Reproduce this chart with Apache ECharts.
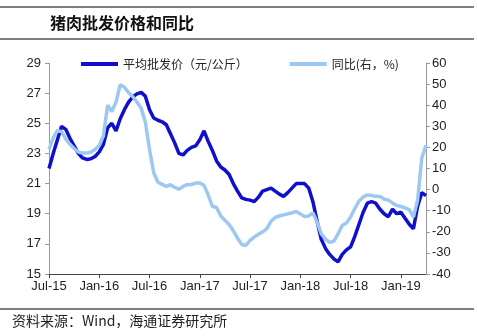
<!DOCTYPE html>
<html><head><meta charset="utf-8">
<script src="https://cdn.jsdelivr.net/npm/echarts@6/dist/echarts.min.js"></script>
<style>html,body{margin:0;padding:0;background:#fff}#c{width:477px;height:336px}</style>
</head><body><div id="c"></div>
<script>
const titleText = '猪肉批发价格和同比';
const sourceText = '资料来源：Wind，海通证券研究所';
const priceName = '平均批发价（元/公斤）';
const yoyName = '同比(右，%)';
// semi-monthly readings from 2015-07-01
const price = [22.0,23.0,23.9,24.8,24.6,24.0,23.5,23.0,22.7,22.6,22.65,22.8,
  23.1,23.6,24.7,25.0,24.5,25.3,25.9,26.4,26.75,26.95,27.05,26.8,
  25.9,25.35,25.2,25.1,24.9,24.3,23.7,23.0,22.9,23.2,23.4,23.5,
  23.9,24.5,23.8,23.2,22.5,22.1,21.9,21.6,21.0,20.5,20.05,19.95,
  19.9,19.8,20.1,20.5,20.6,20.7,20.5,20.3,20.15,20.4,20.7,21.0,
  21.0,21.0,20.7,19.8,18.5,17.3,16.7,16.3,16.0,15.8,16.3,16.6,
  16.8,17.5,18.3,19.1,19.7,19.8,19.7,19.3,19.0,18.8,19.3,19.0,
  19.1,18.7,18.3,18.0,19.5,20.4,20.2];
const yoy = [19,24.5,28,27.5,24,21.5,19.5,17.8,17.3,17.3,17.8,19,
  21,25.5,40,37,41.5,49.7,48.5,46,44,41.5,38.5,32,
  19,8,3.5,2.5,1.5,2.3,1,0.2,1.5,2.3,2.4,3.1,
  3.1,2,-2.5,-7.9,-8.5,-12.5,-14.5,-16.5,-19.5,-23,-26,-26.5,
  -24,-22.5,-21.2,-20,-18.5,-15,-13.2,-12.5,-12,-11.5,-11,-10.4,
  -11.5,-12.8,-12.5,-11,-15.5,-21,-23.5,-25,-24.5,-21,-17,-15.8,
  -13,-9,-5.5,-3.5,-2.5,-2.8,-3.2,-3.3,-4.5,-5,-6.3,-7.5,
  -8,-8.7,-9.5,-13,-5,15,21];
const leftTicks = [15,17,19,21,23,25,27,29];
const rightTicks = [-40,-30,-20,-10,0,10,20,30,40,50,60];
const xTickLabels = ['Jul-15','Jan-16','Jul-16','Jan-17','Jul-17','Jan-18','Jul-18','Jan-19'];

const categories = [];
for (let i = 0; i < price.length; i++) {
  const m = 6 + Math.floor(i / 2);
  const y = 2015 + Math.floor(m / 12);
  const mo = m % 12 + 1;
  categories.push(y + '-' + String(mo).padStart(2, '0') + '-' + (i % 2 ? '16' : '01'));
}

const chart = echarts.init(document.getElementById('c'), null, {renderer: 'canvas'});
const latin = 'Liberation Sans, Arial, sans-serif';
const cjk = 'Noto Sans CJK SC, sans-serif';
chart.setOption({
  animation: false,
  backgroundColor: '#fff',
  grid: {left: 49, right: 51, top: 63, bottom: 62},
  legend: {
    data: [priceName, yoyName], left: 76, top: 53, icon: 'rect',
    itemWidth: 37, itemHeight: 4, itemGap: 42,
    textStyle: {fontSize: 12, color: '#222', fontFamily: cjk}
  },
  graphic: [
    {type: 'line', shape: {x1: 0, y1: 7, x2: 474, y2: 7}, style: {stroke: '#000', lineWidth: 1.2}},
    {type: 'line', shape: {x1: 0, y1: 39, x2: 474, y2: 39}, style: {stroke: '#000', lineWidth: 1.2}},
    {type: 'line', shape: {x1: 0, y1: 309, x2: 474, y2: 309}, style: {stroke: '#000', lineWidth: 1.2}},
    {type: 'text', left: 50, top: 15, style: {text: titleText, font: 'bold 16px ' + cjk, fill: '#111'}},
    {type: 'text', left: 12, top: 314, style: {text: sourceText, font: '14px ' + cjk, fill: '#222'}}
  ],
  xAxis: {
    type: 'category', data: categories, boundaryGap: false,
    axisLine: {onZero: false, lineStyle: {color: '#444', width: 1}},
    axisTick: {interval: (i) => i % 12 === 0, length: 4, lineStyle: {color: '#444'}},
    axisLabel: {
      interval: (i) => i % 12 === 0,
      formatter: (v, i) => xTickLabels[i / 12] || '',
      fontSize: 13, color: '#222', fontFamily: latin, margin: 6
    },
    splitLine: {show: false}
  },
  yAxis: [
    {
      type: 'value', min: 15, max: 29, position: 'left',
      axisLine: {show: true, lineStyle: {color: '#999'}},
      axisTick: {show: true, customValues: leftTicks, length: 4, lineStyle: {color: '#999'}},
      axisLabel: {customValues: leftTicks, fontSize: 13, color: '#222', fontFamily: latin, margin: 8},
      splitLine: {show: false}
    },
    {
      type: 'value', min: -40, max: 60, interval: 10, position: 'right',
      axisLine: {show: true, lineStyle: {color: '#999'}},
      axisTick: {show: true, length: 4, lineStyle: {color: '#999'}},
      axisLabel: {customValues: rightTicks, fontSize: 13, color: '#222', fontFamily: latin, margin: 6},
      splitLine: {show: false}
    }
  ],
  series: [
    {name: priceName, type: 'line', data: price, yAxisIndex: 0, showSymbol: false,
     lineStyle: {width: 3.5, color: '#1010CC'}, itemStyle: {color: '#1010CC'}},
    {name: yoyName, type: 'line', data: yoy, yAxisIndex: 1, showSymbol: false,
     lineStyle: {width: 3.5, color: '#9CC8F2'}, itemStyle: {color: '#9CC8F2'}}
  ]
});
</script></body></html>
